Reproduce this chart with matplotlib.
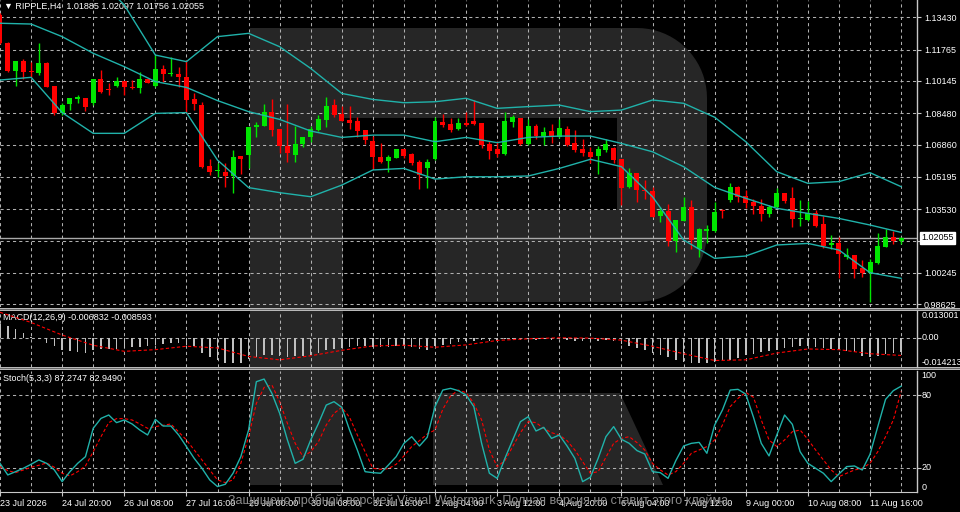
import matplotlib
matplotlib.use("Agg")
import matplotlib.pyplot as plt
from matplotlib.patches import Rectangle, Polygon
import numpy as np

plt.rcParams['font.family'] = ['Liberation Sans', 'DejaVu Sans']

# ---------------- data ----------------
symbol = "RIPPLE,H4"

opens = [1.1355, 1.1212, 1.1066, 1.1117, 1.1066, 1.1057, 1.1109, 1.0988, 1.0847, 1.0895,
         1.0923, 1.0928, 1.0899, 1.1023, 1.0974, 1.0988, 1.1014, 1.0985, 1.0980, 1.1024,
         1.0988, 1.1074, 1.1050, 1.1050, 1.1036, 1.0919, 1.0890, 1.0575, 1.0548, 1.0546,
         1.0524, 1.0627, 1.0632, 1.0775, 1.0782, 1.0856, 1.0765, 1.0679, 1.0632, 1.0689,
         1.0723, 1.0761, 1.0813, 1.0890, 1.0842, 1.0813, 1.0808, 1.0761, 1.0706, 1.0620,
         1.0603, 1.0618, 1.0661, 1.0637, 1.0594, 1.0567, 1.0612, 1.0804, 1.0790, 1.0765,
         1.0797, 1.0809, 1.0799, 1.0689, 1.0661, 1.0637, 1.0804, 1.0821, 1.0689, 1.0782,
         1.0732, 1.0756, 1.0723, 1.0766, 1.0692, 1.0661, 1.0649, 1.0627, 1.0658, 1.0670,
         1.0610, 1.0465, 1.0541, 1.0452, 1.0446, 1.0317, 1.0345, 1.0190, 1.0293, 1.0366,
         1.0145, 1.0242, 1.0242, 1.0348, 1.0400, 1.0465, 1.0421, 1.0391, 1.0369, 1.0328,
         1.0362, 1.0438, 1.0409, 1.0302, 1.0297, 1.0331, 1.0276, 1.0168, 1.0180, 1.0108,
         1.0116, 1.0047, 1.0022, 1.0073, 1.0159, 1.0211, 1.01885]
highs = [1.1363, 1.1217, 1.1117, 1.1126, 1.1114, 1.1208, 1.1112, 1.0988, 1.0899, 1.0928,
         1.0942, 1.0928, 1.1023, 1.1071, 1.1002, 1.1036, 1.1014, 1.1019, 1.1062, 1.1024,
         1.1148, 1.1097, 1.1140, 1.1085, 1.1122, 1.0950, 1.0907, 1.0610, 1.0589, 1.0589,
         1.0658, 1.0627, 1.0778, 1.0804, 1.0895, 1.0921, 1.0765, 1.0895, 1.0784, 1.0727,
         1.0782, 1.0839, 1.0933, 1.0919, 1.0885, 1.0885, 1.0830, 1.0761, 1.0730, 1.0696,
         1.0632, 1.0661, 1.0661, 1.0644, 1.0606, 1.0610, 1.0827, 1.0844, 1.0821, 1.0821,
         1.0856, 1.0916, 1.0799, 1.0706, 1.0706, 1.0856, 1.0839, 1.0821, 1.0816, 1.0792,
         1.0778, 1.0792, 1.0818, 1.0782, 1.0761, 1.0713, 1.0675, 1.0680, 1.0713, 1.0675,
         1.0610, 1.0563, 1.0541, 1.0503, 1.0469, 1.0362, 1.0379, 1.0297, 1.0417, 1.0400,
         1.0254, 1.0271, 1.0391, 1.0352, 1.0486, 1.0472, 1.0452, 1.0403, 1.0403, 1.0374,
         1.0460, 1.0438, 1.0469, 1.0400, 1.0395, 1.0348, 1.0317, 1.0219, 1.0207, 1.0151,
         1.0116, 1.0090, 1.0094, 1.0228, 1.0249, 1.0242, 1.02097]
lows = [1.1205, 1.1062, 1.0988, 1.1023, 1.1033, 1.1045, 1.0981, 1.0839, 1.0839, 1.0864,
        1.0899, 1.0861, 1.0890, 1.0954, 1.0942, 1.0981, 1.0942, 1.0971, 1.0950, 1.1002,
        1.0985, 1.1011, 1.1040, 1.0981, 1.0847, 1.0864, 1.0563, 1.0529, 1.0520, 1.0469,
        1.0434, 1.0534, 1.0563, 1.0727, 1.0782, 1.0730, 1.0641, 1.0598, 1.0598, 1.0675,
        1.0701, 1.0758, 1.0775, 1.0830, 1.0808, 1.0765, 1.0727, 1.0689, 1.0558, 1.0589,
        1.0546, 1.0615, 1.0615, 1.0581, 1.0457, 1.0460, 1.0606, 1.0775, 1.0753, 1.0761,
        1.0782, 1.0787, 1.0667, 1.0610, 1.0620, 1.0632, 1.0775, 1.0684, 1.0684, 1.0713,
        1.0684, 1.0692, 1.0718, 1.0679, 1.0649, 1.0627, 1.0589, 1.0534, 1.0649, 1.0593,
        1.0374, 1.0460, 1.0391, 1.0403, 1.0311, 1.0288, 1.0163, 1.0133, 1.0292, 1.0145,
        1.0108, 1.0176, 1.0237, 1.0306, 1.0391, 1.0391, 1.0357, 1.0328, 1.0293, 1.0314,
        1.0357, 1.0383, 1.0262, 1.0266, 1.0293, 1.0262, 1.0151, 1.0145, 1.0000, 1.0094,
        0.9996, 1.0001, 0.9875, 1.0070, 1.0156, 1.0171, 1.01756]
closes = [1.1208, 1.1067, 1.1117, 1.1062, 1.1059, 1.1109, 1.0981, 1.0851, 1.0890, 1.0928,
          1.0933, 1.0882, 1.1023, 1.0959, 1.0968, 1.1014, 1.0985, 1.0978, 1.1024, 1.1005,
          1.1074, 1.1050, 1.1057, 1.1033, 1.0916, 1.0894, 1.0572, 1.0546, 1.0555, 1.0524,
          1.0624, 1.0613, 1.0778, 1.0789, 1.0856, 1.0761, 1.0679, 1.0641, 1.0689, 1.0727,
          1.0765, 1.0818, 1.0885, 1.0839, 1.0809, 1.0799, 1.0758, 1.0710, 1.0620, 1.0594,
          1.0620, 1.0661, 1.0629, 1.0589, 1.0529, 1.0594, 1.0808, 1.0787, 1.0761, 1.0796,
          1.0787, 1.0792, 1.0684, 1.0655, 1.0637, 1.0808, 1.0827, 1.0689, 1.0782, 1.0730,
          1.0753, 1.0727, 1.0773, 1.0684, 1.0658, 1.0644, 1.0624, 1.0661, 1.0687, 1.0606,
          1.0460, 1.0541, 1.0452, 1.0445, 1.0314, 1.0345, 1.0190, 1.0297, 1.0362, 1.0194,
          1.0249, 1.0249, 1.0340, 1.0342, 1.0465, 1.0414, 1.0383, 1.0369, 1.0328, 1.0362,
          1.0438, 1.0397, 1.0300, 1.0309, 1.0331, 1.0266, 1.0163, 1.0180, 1.0121, 1.0114,
          1.0042, 1.0025, 1.0082, 1.0163, 1.0211, 1.0190, 1.02055]

# Bollinger bands read every 4th bar
band_bars = list(range(0, 117, 4))
bb_upper = [1.1604, 1.1583, 1.1635, 1.1570, 1.1406, 1.1148, 1.1114, 1.1243, 1.1260, 1.1191,
            1.1079, 1.0950, 1.0919, 1.0902, 1.0907, 1.0925, 1.0873, 1.0882, 1.0890, 1.0856,
            1.0864, 1.0916, 1.0899, 1.0827, 1.0701, 1.0546, 1.0486, 1.0495, 1.0541, 1.0469]
bb_middle = [1.1312, 1.1308, 1.1243, 1.1157, 1.1088, 1.1011, 1.0981, 1.0913, 1.0856, 1.0816,
             1.0756, 1.0723, 1.0735, 1.0735, 1.0701, 1.0723, 1.0696, 1.0723, 1.0730, 1.0730,
             1.0692, 1.0649, 1.0572, 1.0465, 1.0409, 1.0357, 1.0331, 1.0305, 1.0271, 1.0233]
bb_lower = [1.1019, 1.1033, 1.0851, 1.0744, 1.0744, 1.0847, 1.0851, 1.0606, 1.0464, 1.0438,
            1.0417, 1.0477, 1.0555, 1.0563, 1.0508, 1.0520, 1.0520, 1.0524, 1.0563, 1.0610,
            1.0572, 1.0417, 1.0194, 1.0099, 1.0111, 1.0168, 1.0176, 1.0142, 1.0025, 0.9996]

macd_main = [0.0066, 0.00578, 0.00413, 0.00248, 0.0005, -0.0005, -0.00248, -0.00413, -0.00578, -0.00627,
             -0.00693, -0.00743, -0.00578, -0.00545, -0.00545, -0.00528, -0.00495, -0.00462, -0.00446, -0.00413,
             -0.0033, -0.00297, -0.00248, -0.00248, -0.0033, -0.00413, -0.00743, -0.0094, -0.01073, -0.01205,
             -0.01238, -0.01238, -0.0104, -0.0094, -0.00825, -0.00825, -0.00908, -0.0094, -0.00908, -0.00875,
             -0.00825, -0.00743, -0.0061, -0.00528, -0.00495, -0.00462, -0.00413, -0.0038, -0.00446, -0.00446,
             -0.00446, -0.00413, -0.00413, -0.00446, -0.00545, -0.00578, -0.00413, -0.0033, -0.0028, -0.00215,
             -0.00165, -0.00165, -0.00132, -0.00149, -0.00165, -0.00083, -0.00066, -0.00099, -0.00083, -0.00099,
             -0.00083, -0.00099, -0.00083, -0.00116, -0.00149, -0.00165, -0.00182, -0.00149, -0.00116, -0.00149,
             -0.0028, -0.00413, -0.00495, -0.00578, -0.00743, -0.00825, -0.0094, -0.01073, -0.01155, -0.01238,
             -0.01238, -0.01238, -0.01155, -0.01073, -0.01073, -0.01007, -0.00825, -0.00776, -0.0071, -0.0066,
             -0.00578, -0.00495, -0.00446, -0.00413, -0.00413, -0.00446, -0.00512, -0.00545, -0.00578, -0.0066,
             -0.0071, -0.00875, -0.0094, -0.00875, -0.00792, -0.00743, -0.006832]
macd_signal = [0.01238, 0.00743, 0.00132, -0.00363, -0.0066, -0.00578, -0.00413, -0.00495, -0.00908, -0.01073,
               -0.00875, -0.0061, -0.00396, -0.00363, -0.00462, -0.00347, -0.00132, -0.0005, 0.0, -0.00017,
               -0.00116, -0.00413, -0.00776, -0.01106, -0.01073, -0.00743, -0.00545, -0.00578, -0.00776, -0.008593]
macd_top, macd_bottom = 0.013001, -0.014213

stoch_main = [23.6, 14.0, 16.7, 19.5, 22.8, 26.4, 23.6, 18.1, 8.5, 16.7,
              23.6, 29.1, 52.5, 60.7, 63.5, 57.2, 59.4, 56.1, 51.1, 47.0,
              59.9, 54.4, 54.4, 47.0, 37.4, 27.7, 19.5, 9.9, 4.4, 6.3,
              15.4, 29.1, 51.1, 91.0, 93.2, 81.4, 64.9, 42.9, 23.6, 26.9,
              42.9, 56.6, 71.7, 74.5, 69.8, 51.1, 34.6, 16.7, 15.9, 15.4,
              22.2, 29.1, 40.1, 45.6, 37.9, 45.1, 70.4, 84.1, 85.5, 83.6,
              80.0, 70.4, 40.1, 15.4, 11.2, 27.7, 42.9, 58.0, 62.1, 50.3,
              53.3, 44.2, 47.0, 37.9, 27.7, 8.5, 12.1, 27.7, 45.6, 53.9,
              43.4, 40.1, 34.1, 31.3, 16.7, 15.9, 11.2, 25.8, 37.9, 40.1,
              40.9, 31.9, 55.2, 67.6, 84.1, 84.7, 80.8, 61.6, 40.1, 29.7,
              47.0, 63.5, 55.8, 33.2, 23.6, 19.5, 15.4, 8.5, 14.8, 20.9,
              21.4, 18.1, 31.0, 53.9, 76.4, 83.6, 87.2747]
stoch_signal = [20.9, 17.6, 15.9, 18.1, 20.3, 22.0, 23.9, 20.3, 15.4, 13.2,
                16.7, 21.4, 33.2, 45.6, 57.2, 60.5, 60.5, 59.4, 56.1, 52.5,
                53.9, 55.0, 56.1, 49.5, 42.9, 34.6, 26.4, 18.1, 9.9, 7.7,
                9.9, 23.6, 45.6, 73.1, 86.3, 88.3, 74.5, 56.6, 40.1, 29.1,
                33.2, 41.5, 55.2, 64.9, 69.8, 61.6, 47.0, 33.2, 19.5, 18.7,
                19.2, 22.8, 29.7, 37.4, 42.3, 47.8, 51.1, 68.2, 79.2, 84.1,
                81.9, 73.1, 59.4, 34.6, 20.9, 25.8, 37.4, 48.9, 58.0, 57.2,
                52.5, 48.9, 47.0, 42.3, 34.6, 25.0, 15.4, 16.7, 28.6, 40.1,
                44.2, 45.6, 40.7, 34.6, 23.6, 18.1, 14.0, 16.7, 23.6, 31.9,
                34.6, 37.4, 42.9, 55.2, 70.4, 77.2, 82.2, 78.1, 59.4, 42.9,
                37.4, 42.9, 49.7, 51.1, 43.4, 34.6, 26.4, 18.1, 12.6, 15.4,
                18.1, 19.5, 23.6, 33.2, 45.6, 59.4, 82.9490]

price_ticks = [1.13430, 1.11765, 1.10145, 1.08480, 1.06860, 1.05195, 1.03530, 1.01890, 1.00245, 0.98625]
price_labels = ["1.13430", "1.11765", "1.10145", "1.08480", "1.06860", "1.05195", "1.03530", "", "1.00245", "0.98625"]
time_labels = ["23 Jul 2026", "24 Jul 20:00", "26 Jul 08:00", "27 Jul 16:00", "29 Jul 00:00",
               "30 Jul 08:00", "31 Jul 16:00", "2 Aug 04:00", "3 Aug 12:00", "4 Aug 20:00",
               "6 Aug 04:00", "7 Aug 12:00", "9 Aug 00:00", "10 Aug 08:00", "11 Aug 16:00"]
watermark = "Защищено пробной версией Visual Watermark. Полная версия не ставит этого клейма."

# ---------------- layout ----------------
W, H = 960, 512
BULL, BEAR = "#00e600", "#ff0000"
BAND = "#20b2aa"
GRID = "#b0b0b0"
AXC = "#c8c8c8"
FS = 6.5


def rect(x0, y0, x1, y1):
    return [x0 / W, 1 - y1 / H, (x1 - x0) / W, (y1 - y0) / H]


fig = plt.figure(figsize=(W / 100, H / 100), dpi=100, facecolor="black")

# background: watermark shape, separators
bg = fig.add_axes([0, 0, 1, 1], zorder=0)
bg.set_xlim(0, W)
bg.set_ylim(H, 0)
bg.axis("off")
wm = "#262626"
r = 70
ang = np.linspace(0, np.pi / 2, 20)
bowl = [(250, 28)]
bowl += [(707 - r + r * np.sin(a), 28 + r - r * np.cos(a)) for a in ang]
bowl += [(707 - r + r * np.cos(a), 302 - r + r * np.sin(a)) for a in ang]
bowl += [(250, 302)]
bg.add_patch(Polygon(bowl, closed=True, facecolor=wm, edgecolor="none"))
bg.add_patch(Rectangle((343, 118), 274, 92, facecolor="black", edgecolor="none"))
bg.add_patch(Rectangle((343, 210), 92, 92, facecolor="black", edgecolor="none"))
bg.add_patch(Rectangle((250, 302), 93, 183, facecolor=wm, edgecolor="none"))
bg.add_patch(Polygon([(433, 393), (620, 393), (663, 485), (433, 485)], closed=True,
                     facecolor=wm, edgecolor="none"))
for y0 in (307.5, 366.8):
    bg.add_patch(Rectangle((0, y0), W, 3, facecolor="#b8b8b8", edgecolor="none"))
    bg.add_patch(Rectangle((0, y0 + 1.2), W, 0.8, facecolor="#6a6a6a", edgecolor="none"))

ax_p = fig.add_axes(rect(0, 0, 917, 307), zorder=1)
ax_m = fig.add_axes(rect(0, 311, 917, 367), zorder=1, sharex=ax_p)
ax_s = fig.add_axes(rect(0, 370.8, 917, 491.9), zorder=1, sharex=ax_p)

n = len(closes)
idx = np.arange(n)
ax_p.set_xlim(0, 917 / 7.768)

for ax in (ax_p, ax_m, ax_s):
    ax.set_facecolor("none")
    ax.set_axisbelow(True)
    for s in ("top", "left", "bottom"):
        ax.spines[s].set_visible(False)
    ax.spines["right"].set_color(AXC)
    ax.spines["right"].set_linewidth(1.0)
    ax.yaxis.tick_right()
    ax.tick_params(axis="y", colors=AXC, length=3, width=0.8, labelsize=FS,
                   labelcolor="white", pad=2)
    ax.tick_params(axis="x", which="both", length=0, labelbottom=False)
    ax.set_xticks(np.arange(0, n, 8))
    ax.set_xticks(np.arange(4, n, 8), minor=True)
    ax.grid(True, which="both", axis="x", color=GRID, linestyle=(0, (3, 3)), linewidth=0.75)
    ax.grid(True, axis="y", color=GRID, linestyle=(0, (3, 3)), linewidth=0.75)

# ---------------- price panel ----------------
ax_p.set_ylim(0.9848, 1.1432)
ax_p.set_yticks(price_ticks)
ax_p.set_yticklabels(price_labels)

o = np.array(opens)
c = np.array(closes)
hi = np.array(highs)
lo = np.array(lows)
col = [BULL if cc >= oo else BEAR for oo, cc in zip(o, c)]
ax_p.vlines(idx, lo, hi, colors=col, linewidth=1.0, zorder=3)
body = np.maximum(np.abs(c - o), 0.00035)
ax_p.bar(idx, body, bottom=np.minimum(o, c), width=0.64, color=col, linewidth=0, zorder=4)

ax_p.plot(band_bars, bb_upper, color=BAND, lw=1.0, zorder=5)
ax_p.plot(band_bars, bb_middle, color=BAND, lw=1.0, zorder=5)
ax_p.plot(band_bars, bb_lower, color=BAND, lw=1.0, zorder=5)

ax_p.axhline(closes[-1], color="#a8a8a8", lw=1.0, zorder=2)
ax_p.text(1.0045, closes[-1], f"{closes[-1]:.5f}", transform=ax_p.get_yaxis_transform(),
          ha="left", va="center", fontsize=FS, color="black", zorder=10, clip_on=False,
          bbox=dict(facecolor="white", edgecolor="white", pad=1.0))
ax_p.text(0.004, 0.995,
          f"\u25bc {symbol}  {opens[-1]:.5f} {highs[-1]:.5f} {lows[-1]:.5f} {closes[-1]:.5f}",
          transform=ax_p.transAxes, ha="left", va="top", fontsize=FS, color="white")

# ---------------- MACD panel ----------------
ax_m.set_ylim(macd_bottom, macd_top)
ax_m.set_yticks([0.0])
ax_m.set_yticklabels([""])
ax_m.bar(idx, macd_main, width=0.2, color="#c0c0c0", linewidth=0, zorder=3)
ax_m.plot(band_bars, macd_signal, color="red", lw=0.8, linestyle=(0, (3, 2)), zorder=4)
ytr = ax_m.get_yaxis_transform()
ax_m.text(1.0045, macd_top, f"{macd_top:.6f}", transform=ytr, ha="left", va="top",
          fontsize=FS, color="white", clip_on=False)
ax_m.text(1.0045, 0.0, "0.00", transform=ytr, ha="left", va="center",
          fontsize=FS, color="white", clip_on=False)
ax_m.text(1.0045, macd_bottom, f"{macd_bottom:.6f}", transform=ytr, ha="left", va="bottom",
          fontsize=FS, color="white", clip_on=False)
ax_m.text(0.003, 0.97, f"MACD(12,26,9) {macd_main[-1]:.6f} {macd_signal[-1]:.6f}",
          transform=ax_m.transAxes, ha="left", va="top", fontsize=FS, color="white")

# ---------------- Stochastic panel ----------------
ax_s.set_ylim(0, 100)
ax_s.set_yticks([20, 80])
ax_s.set_yticklabels(["", ""])
ax_s.spines["bottom"].set_visible(True)
ax_s.spines["bottom"].set_color(AXC)
ax_s.plot(idx, stoch_main, color=BAND, lw=1.0, zorder=4)
ax_s.plot(idx, stoch_signal, color="red", lw=0.8, linestyle=(0, (3, 2)), zorder=3)
ytr = ax_s.get_yaxis_transform()
for v, va in ((100, "top"), (80, "center"), (20, "center"), (0, "bottom")):
    ax_s.text(1.0045, v, str(v), transform=ytr, ha="left", va=va, fontsize=FS,
              color="white", clip_on=False)
ax_s.text(0.003, 0.975, f"Stoch(5,3,3) {stoch_main[-1]:.4f} {stoch_signal[-1]:.4f}",
          transform=ax_s.transAxes, ha="left", va="top", fontsize=FS, color="white")

ax_s.tick_params(axis="x", which="major", length=3, width=0.8, colors=AXC,
                 labelbottom=True, labelsize=FS, labelcolor="white", pad=2)
ax_s.set_xticks(np.arange(0, n, 8))
ax_s.set_xticklabels(time_labels)
for t in ax_s.get_xticklabels():
    t.set_horizontalalignment("left")

fig.text(480 / W, 1 - 501 / H, watermark, ha="center", va="center", fontsize=9,
         color="#8a8a8a", zorder=20)

fig.savefig("out.png", dpi=100, facecolor="black")
